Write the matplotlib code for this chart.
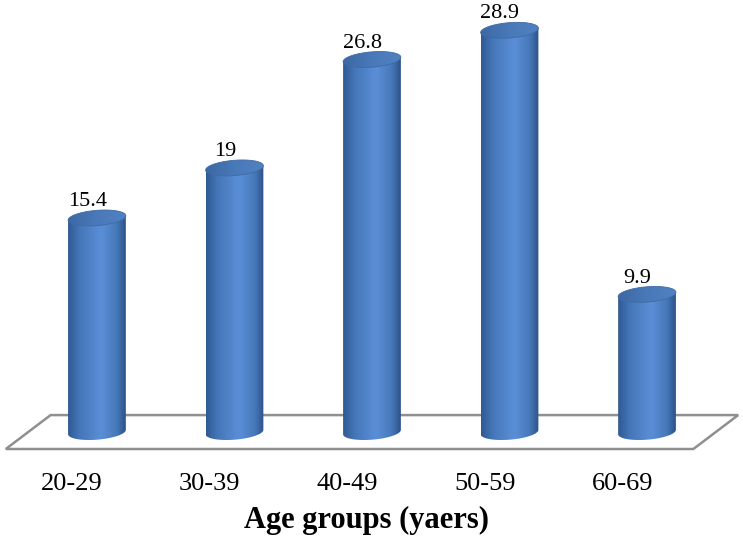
import numpy as np
import matplotlib
matplotlib.use("Agg")
import matplotlib.pyplot as plt
from matplotlib.patches import Polygon, PathPatch
from matplotlib.path import Path
from matplotlib.colors import LinearSegmentedColormap

groups = ["20-29", "30-39", "40-49", "50-59", "60-69"]
values = [15.4, 19, 26.8, 28.9, 9.9]

plt.rcParams['font.family'] = ['Liberation Serif', 'DejaVu Serif']

fig = plt.figure(figsize=(7.43, 5.37), dpi=100)
ax = fig.add_axes([0, 0, 1, 1])
ax.set_xlim(-0.705, 4.698)
ax.set_ylim(-7.55, 31.08)
ax.axis('off')

n = len(groups)
w = 0.42      # cylinder width
eh = 0.55     # half height of ellipse
tilt = 0.75   # slope of ellipse axis

# floor
depth_x = 0.163
depth_y = 1.22
floor = Polygon([(-0.5 - depth_x, -depth_y), (n - 0.5 - depth_x, -depth_y),
                 (n - 0.5 + depth_x, depth_y), (-0.5 + depth_x, depth_y)],
                closed=True, fc='white', ec='#8f8f8f', lw=1.8, zorder=1)
ax.add_patch(floor)

body_cmap = LinearSegmentedColormap.from_list(
    'cyl', [(0, '#2f5a94'), (0.2, '#4576b8'), (0.58, '#5a8fd8'),
            (0.85, '#4677b8'), (1, '#2d5288')])
top_cmap = LinearSegmentedColormap.from_list(
    'top', [(0, '#3c68a4'), (0.5, '#4a79b9'), (1, '#5281c2')])
grad = np.linspace(0, 1, 200).reshape(1, -1)

t = np.linspace(0, 2 * np.pi, 120)
for i, v in enumerate(values):
    ex = (w / 2) * np.cos(t)
    ey = eh * np.sin(t) + tilt * ex
    # body: from bottom half ellipse to top
    tb = np.linspace(np.pi, 2 * np.pi, 60)
    bx = (w / 2) * np.cos(tb)
    by = eh * np.sin(tb) + tilt * bx
    verts = list(zip(i + bx, by))
    verts += [(i + w / 2, v + tilt * w / 2), (i - w / 2, v - tilt * w / 2)]
    path = Path(verts + [verts[0]], closed=True)
    clip = PathPatch(path, fc='none', ec='none', transform=ax.transData)
    ax.add_patch(clip)
    im = ax.imshow(grad, cmap=body_cmap, aspect='auto',
                   extent=[i - w / 2, i + w / 2, -2, v + 1], zorder=2)
    im.set_clip_path(clip)
    tpath = Path(list(zip(i + ex, v + ey)), closed=True)
    tclip = PathPatch(tpath, fc='none', ec='#3f6aa6', lw=0.6,
                      transform=ax.transData, zorder=3.1)
    ax.add_patch(tclip)
    tim = ax.imshow(grad, cmap=top_cmap, aspect='auto',
                    extent=[i - w / 2, i + w / 2, v - 1, v + 1], zorder=3)
    tim.set_clip_path(tclip)
    ax.text(i - 0.07, v + 0.85, f"{v:g}", ha='center', va='baseline',
            fontsize=16, zorder=4)

for i, g in enumerate(groups):
    ax.text(i - 0.18, -4.17, g, ha='center', va='baseline', fontsize=19)

ax.text((n - 1) / 2 - 0.04, -6.9, "Age groups (yaers)", ha='center',
        va='baseline', fontsize=22, fontweight='bold')

plt.savefig('out.png', dpi=100)
